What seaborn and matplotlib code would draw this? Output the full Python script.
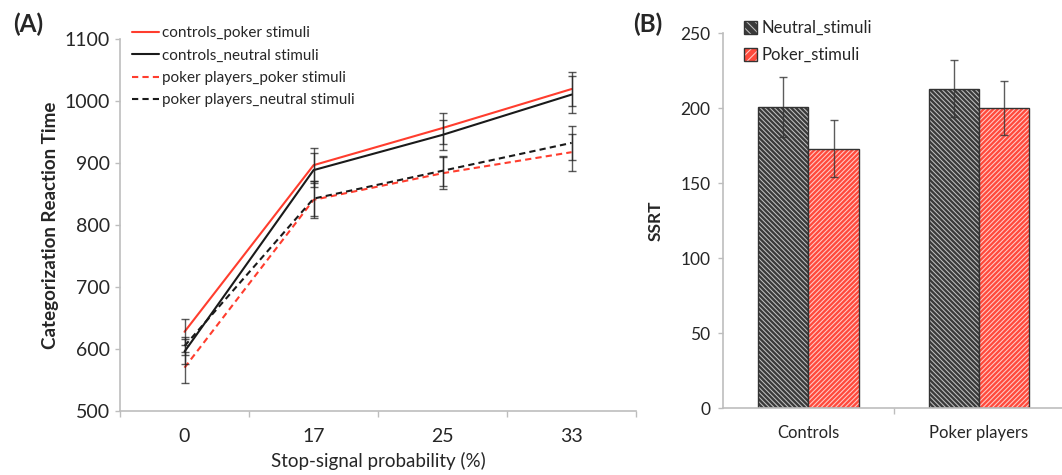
import numpy as np
import pandas as pd
import matplotlib
matplotlib.use("Agg")
import matplotlib.pyplot as plt
import seaborn as sns
from matplotlib.patches import Patch
from matplotlib.lines import Line2D

# ---------------- data ----------------
prob_labels = ["0", "17", "25", "33"]
series_names = ["controls_poker stimuli", "controls_neutral stimuli",
                "poker players_poker stimuli", "poker players_neutral stimuli"]
controls_poker = [628, 897, 957, 1020]
controls_neutral = [596, 889, 946, 1011]
players_poker = [570, 841, 884, 918]
players_neutral = [605, 843, 888, 933]
controls_poker_err = [21, 28, 25, 28]
controls_neutral_err = [20, 28, 24, 30]
players_poker_err = [25, 30, 26, 30]
players_neutral_err = [15, 28, 24, 27]

groups = ["Controls", "Poker players"]
stim_names = ["Neutral_stimuli", "Poker_stimuli"]
ssrt_neutral = [201, 213]
ssrt_poker = [173, 200]
ssrt_neutral_err = [20, 19]
ssrt_poker_err = [19, 18]

# ---------------- style ----------------
sns.set_theme(style="white")
plt.rcParams["font.family"] = ["Lato", "DejaVu Sans"]
plt.rcParams["hatch.linewidth"] = 0.75

RED = "#FF3D2E"
BLACK = "#1a1a1a"
SPINE = "#bdbdbd"
BAR_GRAY = "#3a3a3a"
BAR_RED = "#FF4A3C"
HATCH_GRAY = (1, 1, 1, 0.68)
HATCH_RED = (1, 1, 1, 0.72)

fig = plt.figure(figsize=(10.62, 4.75), dpi=100)
axA = fig.add_axes([0.113, 0.1347, 0.486, 0.7822])
axB = fig.add_axes([0.681, 0.141, 0.321, 0.7895])

# ---------------- panel A ----------------
values = [controls_poker, controls_neutral, players_poker, players_neutral]
errs = [controls_poker_err, controls_neutral_err, players_poker_err, players_neutral_err]
rows = []
for name, vals, es in zip(series_names, values, errs):
    for i, (v, e) in enumerate(zip(vals, es)):
        rows.append({"series": name, "pos": i, "rt": v, "err": e})
dfA = pd.DataFrame(rows)

palette = {series_names[0]: RED, series_names[1]: BLACK,
           series_names[2]: RED, series_names[3]: BLACK}
dashes = {series_names[0]: "", series_names[1]: "",
          series_names[2]: (3, 2), series_names[3]: (3, 2)}
sns.lineplot(data=dfA, x="pos", y="rt", hue="series", style="series",
             palette=palette, dashes=dashes, hue_order=series_names,
             style_order=series_names, linewidth=1.5, ax=axA, legend=False)
for name in series_names:
    d = dfA[dfA.series == name]
    axA.errorbar(d["pos"], d["rt"], yerr=d["err"], fmt="none", ecolor="#222222",
                 elinewidth=1.0, capsize=3, capthick=1.0, alpha=0.75, zorder=3)

axA.set_xlim(-0.5, 3.5)
axA.set_ylim(500, 1100)
axA.set_yticks(np.arange(500, 1101, 100))
axA.set_xticks(range(len(prob_labels)))
axA.set_xticklabels(prob_labels)
axA.set_xticks(np.arange(-0.5, 3.6, 1.0), minor=True)
axA.tick_params(axis="x", which="major", length=0, labelsize=14, pad=12)
axA.tick_params(axis="x", which="minor", length=4, width=1, color=SPINE,
                direction="out", bottom=True)
axA.tick_params(axis="y", which="major", length=3.6, width=1, color=SPINE,
                direction="out", labelsize=14, pad=3.5, left=True)
for s in ["top", "right"]:
    axA.spines[s].set_visible(False)
for s in ["left", "bottom"]:
    axA.spines[s].set_color(SPINE)
    axA.spines[s].set_linewidth(1.2)
axA.set_xlabel("Stop-signal probability (%)", fontsize=13.5, labelpad=5)
axA.set_ylabel("Categorization Reaction Time", fontsize=13.5, fontweight="bold", labelpad=4)

handlesA = [Line2D([0], [0], color=palette[n], lw=1.5,
                   linestyle="-" if dashes[n] == "" else (0, dashes[n]))
            for n in series_names]
axA.legend(handlesA, series_names, loc="upper left", bbox_to_anchor=(0.1175, 0.961),
           bbox_transform=fig.transFigure, frameon=False, fontsize=11,
           handlelength=1.75, handletextpad=0.2, labelspacing=0.55, borderpad=0)

# ---------------- panel B ----------------
rowsB = []
for g, vn, vp, en, ep in zip(groups, ssrt_neutral, ssrt_poker, ssrt_neutral_err, ssrt_poker_err):
    rowsB.append({"group": g, "stim": stim_names[0], "ssrt": vn, "err": en})
    rowsB.append({"group": g, "stim": stim_names[1], "ssrt": vp, "err": ep})
dfB = pd.DataFrame(rowsB)

sns.barplot(data=dfB, x="group", y="ssrt", hue="stim", order=groups, hue_order=stim_names,
            palette={stim_names[0]: BAR_GRAY, stim_names[1]: BAR_RED},
            width=0.59, errorbar=None, ax=axB, legend=False, saturation=1)

hatches = {stim_names[0]: "\\" * 7, stim_names[1]: "/" * 7}
hatch_cols = {stim_names[0]: HATCH_GRAY, stim_names[1]: HATCH_RED}
for cont, stim in zip(axB.containers, stim_names):
    for bar in cont:
        bar.set_hatch(hatches[stim])
        bar.set_edgecolor("#333333")
        bar.set_linewidth(1.0)
        bar._hatch_color = hatch_cols[stim]
    sub = dfB[dfB.stim == stim]
    xs = [b.get_x() + b.get_width() / 2 for b in cont]
    axB.errorbar(xs, sub["ssrt"], yerr=sub["err"], fmt="none", ecolor="#333333",
                 elinewidth=1.0, capsize=3, capthick=1.0, alpha=0.8, zorder=3)

axB.set_xlim(-0.5, 1.5)
axB.set_ylim(0, 250)
axB.set_yticks(np.arange(0, 251, 50))
axB.set_xticks([0.5], minor=True)
axB.tick_params(axis="x", which="major", length=0, labelsize=12, pad=12)
axB.tick_params(axis="x", which="minor", length=4, width=1, color=SPINE,
                direction="out", bottom=True)
axB.tick_params(axis="y", which="major", length=3.6, width=1, color=SPINE,
                direction="out", labelsize=12.5, pad=5.5, left=True)
for s in ["top", "right"]:
    axB.spines[s].set_visible(False)
for s in ["left", "bottom"]:
    axB.spines[s].set_color(SPINE)
    axB.spines[s].set_linewidth(1.2)
axB.set_xlabel("")
axB.set_ylabel("SSRT", fontsize=12.5, fontweight="bold", labelpad=12)

handlesB = []
for stim, col in zip(stim_names, [BAR_GRAY, BAR_RED]):
    p = Patch(facecolor=col, edgecolor="#333333", hatch=hatches[stim][:4], linewidth=1.0)
    p._hatch_color = hatch_cols[stim]
    handlesB.append(p)
axB.legend(handlesB, stim_names, loc="upper left", bbox_to_anchor=(0.6925, 0.975),
           bbox_transform=fig.transFigure, frameon=False, fontsize=12,
           handlelength=0.8, handleheight=0.8, handletextpad=0.25, labelspacing=0.65, borderpad=0)

# ---------------- panel labels ----------------
fig.text(0.012, 0.948, "(A)", fontsize=17.5, fontweight="bold", va="center", ha="left")
fig.text(0.596, 0.948, "(B)", fontsize=17.5, fontweight="bold", va="center", ha="left")

fig.savefig("out.png", dpi=100)
